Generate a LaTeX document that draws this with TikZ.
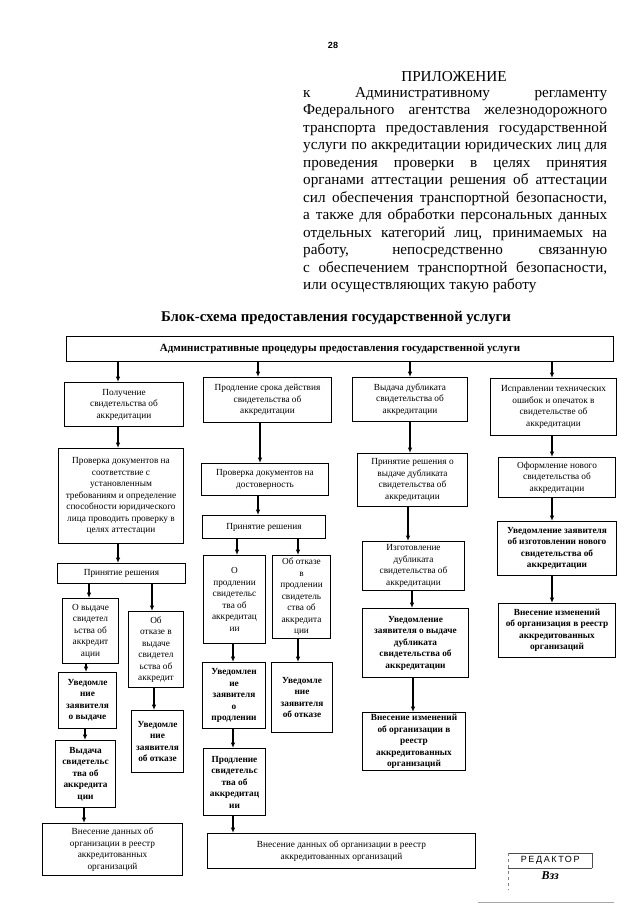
\documentclass[tikz,border=0pt]{standalone}
\usepackage{fontspec}
\setmainfont{Liberation Serif}
\newfontfamily\sansf{Liberation Sans}
\newfontfamily\stampf[LetterSpace=18]{Liberation Sans}
\usetikzlibrary{arrows.meta}
\newcommand\mybox[7]{\node[#1, minimum width={(#5-#3)*1pt}, minimum height={(#6-#4)*1pt}] (#2) at (#3,#4) {#7};}
\begin{document}
\begin{tikzpicture}[x=1pt,y=-1pt,
  bx/.style={draw, line width=1pt, anchor=north west, inner sep=0pt, align=center, font=\fontsize{9.3}{11.5}\selectfont},
  bxb/.style={bx, font=\fontsize{9.3}{11.5}\selectfont\bfseries},
  topbx/.style={bx, font=\fontsize{11}{12}\selectfont\bfseries},
  arr/.style={line width=1.3pt, -{Latex[length=5.5pt,width=4.5pt]}},
  hdr/.style={font=\fontsize{15.2}{17.5}\selectfont, inner sep=0pt}]
\useasboundingbox (0,0) rectangle (640,905);
\fill[white] (0,0) rectangle (640,905);

% header
\node[font=\sansf\bfseries\fontsize{9}{10}\selectfont] (pg) at (333,45) {28};
\node[hdr, anchor=base] (app) at (454,81) {ПРИЛОЖЕНИЕ};
\node[hdr, anchor=north west, align=left] (para) at (303,87) {%
\makebox[304pt][s]{к Административному регламенту}\\
\makebox[304pt][s]{Федерального агентства железнодорожного}\\
\makebox[304pt][s]{транспорта предоставления государственной}\\
\makebox[304pt][s]{услуги по аккредитации юридических лиц для}\\
\makebox[304pt][s]{проведения проверки в целях принятия}\\
\makebox[304pt][s]{органами аттестации решения об аттестации}\\
\makebox[304pt][s]{сил обеспечения транспортной безопасности,}\\
\makebox[304pt][s]{а также для обработки персональных данных}\\
\makebox[304pt][s]{отдельных категорий лиц, принимаемых на}\\
\makebox[304pt][s]{работу, непосредственно связанную}\\
\makebox[304pt][s]{с обеспечением транспортной безопасности,}\\
или осуществляющих такую работу};

\node[font=\bfseries\fontsize{14.8}{16}\selectfont, anchor=base] (title) at (336,321) {Блок-схема предоставления государственной услуги};

\mybox{topbx}{top}{66}{336}{613}{361}{Административные процедуры предоставления государственной услуги}

% column 1
\mybox{bx}{p1}{64}{382}{183}{426}{Получение\\свидетельства об\\аккредитации}
\mybox{bx}{p2}{58}{448}{183}{543}{Проверка документов на\\соответствие с\\установленным\\требованиям и определение\\способности юридического\\лица проводить проверку в\\целях аттестации}
\mybox{bx}{p3}{57}{563}{185}{583}{Принятие решения}
\mybox{bx}{p4}{62}{598}{118}{663}{О выдаче\\свидетел\\ьства об\\аккредит\\ации}
\mybox{bx}{p5}{128}{611}{183}{687}{Об\\отказе в\\выдаче\\свидетел\\ьства об\\аккредит}
\mybox{bxb}{p6}{58}{672}{116}{728}{Уведомле\\ние\\заявителя\\о выдаче}
\mybox{bxb}{p7}{131}{710}{183}{772}{Уведомле\\ние\\заявителя\\об отказе}
\mybox{bxb}{p8}{55}{740}{115}{807}{Выдача\\свидетельс\\тва об\\аккредита\\ции}
\mybox{bx}{p9}{42}{823}{182}{875}{Внесение данных об\\организации в реестр\\аккредитованных\\организаций}

% column 2
\mybox{bx}{q1}{203}{377}{331}{422}{Продление срока действия\\свидетельства об\\аккредитации}
\mybox{bx}{q2}{201}{463}{328}{495}{Проверка документов на\\достоверность}
\mybox{bx}{q3}{202}{515}{325}{538}{Принятие решения}
\mybox{bx}{q4}{203}{555}{265}{643}{О\\продлении\\свидетельс\\тва об\\аккредитац\\ии}
\mybox{bx}{q5}{272}{555}{330}{638}{Об отказе\\в\\продлении\\свидетель\\ства об\\аккредита\\ции}
\mybox{bxb}{q6}{202}{662}{265}{728}{Уведомлен\\ие\\заявителя\\о\\продлении}
\mybox{bxb}{q7}{271}{662}{332}{732}{Уведомле\\ние\\заявителя\\об отказе}
\mybox{bxb}{q8}{203}{748}{265}{815}{Продление\\свидетельс\\тва об\\аккредитац\\ии}
\mybox{bx}{q9}{207}{833}{475}{868}{Внесение данных об организации в реестр\\аккредитованных организаций}

% column 3
\mybox{bx}{s1}{352}{377}{467}{421}{Выдача дубликата\\свидетельства об\\аккредитации}
\mybox{bx}{s2}{357}{453}{467}{506}{Принятие решения о\\выдаче дубликата\\свидетельства об\\аккредитации}
\mybox{bx}{s3}{362}{541}{464}{590}{Изготовление\\дубликата\\свидетельства об\\аккредитации}
\mybox{bxb}{s4}{362}{608}{468}{677}{Уведомление\\заявителя о выдаче\\дубликата\\свидетельства об\\аккредитации}
\mybox{bxb}{s5}{362}{712}{465}{770}{Внесение изменений\\об организации в\\реестр\\аккредитованных\\организаций}

% column 4
\mybox{bx}{r1}{490}{378}{616}{435}{Исправлении технических\\ошибок и опечаток в\\свидетельстве об\\аккредитации}
\mybox{bx}{r2}{498}{457}{615}{497}{Оформление нового\\свидетельства об\\аккредитации}
\mybox{bxb}{r3}{497}{521}{616}{575}{Уведомление заявителя\\об изготовлении нового\\свидетельства об\\аккредитации}
\mybox{bxb}{r4}{498}{603}{615}{657}{Внесение изменений\\об организация в реестр\\аккредитованных\\организаций}

% x positions of connectors
\foreach \xx in {84,85,86,89,118,152,154,233,237,258,260,298,408,410,412,413,552}
  \coordinate (c\xx) at (\xx,0);

\draw[arr] (top.south -| c118) -- (p1.north -| c118);
\draw[arr] (p1.south -| c118) -- (p2.north -| c118);
\draw[arr] (p2.south -| c118) -- (p3.north -| c118);
\draw[arr] (p3.south -| c89) -- (p4.north -| c89);
\draw[arr] (p3.south -| c152) -- (p5.north -| c152);
\draw[arr] (p4.south -| c86) -- (p6.north -| c86);
\draw[arr] (p5.south -| c154) -- (p7.north -| c154);
\draw[arr] (p6.south -| c85) -- (p8.north -| c85);
\draw[arr] (p8.south -| c84) -- (p9.north -| c84);

\draw[arr] (top.south -| c258) -- (q1.north -| c258);
\draw[arr] (q1.south -| c260) -- (q2.north -| c260);
\draw[arr] (q2.south -| c258) -- (q3.north -| c258);
\draw[arr] (q3.south -| c237) -- (q4.north -| c237);
\draw[arr] (q3.south -| c298) -- (q5.north -| c298);
\draw[arr] (q4.south -| c233) -- (q6.north -| c233);
\draw[arr] (q5.south -| c298) -- (q7.north -| c298);
\draw[arr] (q6.south -| c233) -- (q8.north -| c233);
\draw[arr] (q8.south -| c233) -- (q9.north -| c233);

\draw[arr] (top.south -| c410) -- (s1.north -| c410);
\draw[arr] (s1.south -| c410) -- (s2.north -| c410);
\draw[arr] (s2.south -| c408) -- (s3.north -| c408);
\draw[arr] (s3.south -| c412) -- (s4.north -| c412);
\draw[arr] (s4.south -| c413) -- (s5.north -| c413);

\draw[arr] (top.south -| c552) -- (r1.north -| c552);
\draw[arr] (r1.south -| c552) -- (r2.north -| c552);
\draw[arr] (r2.south -| c552) -- (r3.north -| c552);
\draw[arr] (r3.south -| c552) -- (r4.north -| c552);

% stamp
\node[anchor=north west, inner sep=0pt, minimum width=84pt, minimum height=15pt, font=\stampf\fontsize{9}{10}\selectfont] (stamp) at (508,853) {РЕДАКТОР};
\node[anchor=north, inner sep=0pt, font=\bfseries\itshape\fontsize{12}{13}\selectfont] (sig) at ([yshift=-3pt]stamp.south) {Взз};
\draw[line width=0.7pt, gray!60!black] (stamp.south east) -- (stamp.north east) -- (stamp.north west);
\draw[line width=0.7pt, gray!60!black] (stamp.south west) -- (stamp.south east);
\draw[line width=0.6pt, gray, dashed] (stamp.north west) -- ([yshift=-22pt]stamp.south west);
\draw[line width=0.8pt, gray!70] ([xshift=-30pt,yshift=-34pt]stamp.south west) -- ([xshift=22pt,yshift=-34pt]stamp.south east);
\end{tikzpicture}
\end{document}
